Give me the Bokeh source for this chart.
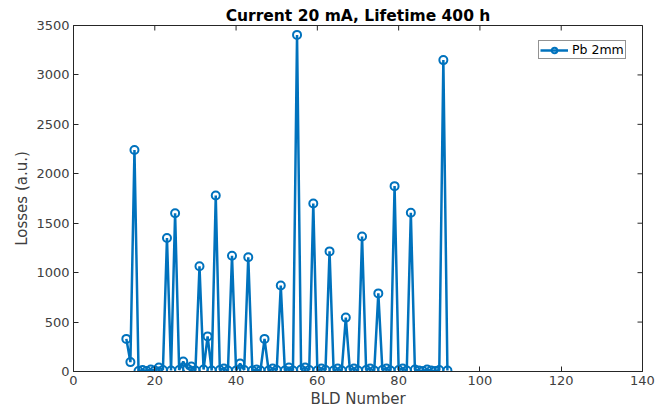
import math
from bokeh.plotting import figure
from bokeh.models import Range1d, FixedTicker, ColumnDataSource, Legend, LegendItem
from bokeh.embed import file_html
from bokeh.resources import INLINE

bld = list(range(13, 93))
losses = [330, 95, 2240, 5, 15, 5, 20, 10, 40, 15,
          1350, 10, 1600, 15, 100, 30, 50, 10, 1065, 20,
          355, 10, 1780, 15, 30, 10, 1170, 10, 80, 15,
          1155, 10, 20, 10, 330, 10, 30, 15, 870, 10,
          40, 10, 3405, 20, 40, 15, 1700, 10, 30, 15,
          1215, 10, 30, 10, 545, 15, 30, 10, 1365, 15,
          30, 10, 790, 15, 30, 10, 1875, 15, 30, 10,
          1605, 20, 10, 5, 20, 10, 5, 15, 3150, 10]
x_ticks = [0, 20, 40, 60, 80, 100, 120, 140]
y_ticks = [0, 500, 1000, 1500, 2000, 2500, 3000, 3500]
title_text = "Current 20 mA, Lifetime 400 h"
x_label = "BLD Number"
y_label = "Losses (a.u.)"
series_name = "Pb 2mm"

FONT = "DejaVu Sans"
BLUE = "#0072BD"
AX = "#262626"

x0, x1 = x_ticks[0], x_ticks[-1]
y0, y1 = y_ticks[0], y_ticks[-1]

src = ColumnDataSource(dict(x=bld, y=losses))

p = figure(width=658, height=413, output_backend="svg", toolbar_location=None,
           x_range=Range1d(x0, x1), y_range=Range1d(y0, y1),
           min_border_left=73, min_border_right=16, min_border_top=25, min_border_bottom=42)

p.title.text = title_text
p.title.align = "center"
p.title.text_font = FONT
p.title.text_font_size = "15.5px"
p.title.text_font_style = "bold"
p.title.text_color = "black"
p.title.standoff = 2

p.xgrid.visible = False
p.ygrid.visible = False
p.outline_line_color = AX
p.outline_line_width = 1

for ax, ticks in ((p.xaxis[0], x_ticks), (p.yaxis[0], y_ticks)):
    ax.ticker = FixedTicker(ticks=ticks)
    ax.major_tick_in = 5
    ax.major_tick_out = 0
    ax.minor_tick_in = 0
    ax.minor_tick_out = 0
    ax.axis_line_color = AX
    ax.major_tick_line_color = AX
    ax.major_label_text_font = FONT
    ax.major_label_text_font_size = "13px"
    ax.major_label_text_color = "#404040"
    ax.axis_label_text_font = FONT
    ax.axis_label_text_font_size = "15px"
    ax.axis_label_text_font_style = "normal"
    ax.axis_label_text_color = "#404040"
    ax.major_label_standoff = 4
    ax.axis_label_standoff = 2

p.xaxis[0].axis_label = x_label
p.yaxis[0].axis_label = y_label

# mirrored ticks on top and right edges (clipped to the frame, so only the inner half shows)
p.scatter(x_ticks, [y1] * len(x_ticks), marker="dash", angle=math.pi / 2, size=10,
          line_color=AX, line_width=1)
p.scatter([x1] * len(y_ticks), y_ticks, marker="dash", angle=0, size=10,
          line_color=AX, line_width=1)

r = p.line("x", "y", source=src, line_color=BLUE, line_width=2.5)
m = p.scatter("x", "y", source=src, marker="circle", size=8, line_color=BLUE,
              line_width=2, fill_color="white", fill_alpha=0)

legend = Legend(items=[LegendItem(label=series_name, renderers=[r, m])],
                location=(465, 312))
legend.label_text_font = FONT
legend.label_text_font_size = "12.5px"
legend.label_text_color = "black"
legend.border_line_color = "#262626"
legend.border_line_width = 1
legend.margin = 0
legend.padding = 1
legend.spacing = 0
legend.glyph_width = 28
legend.label_standoff = 4
legend.label_height = 14
legend.glyph_height = 14
p.add_layout(legend)

open("out.html", "w").write(file_html(p, INLINE))
